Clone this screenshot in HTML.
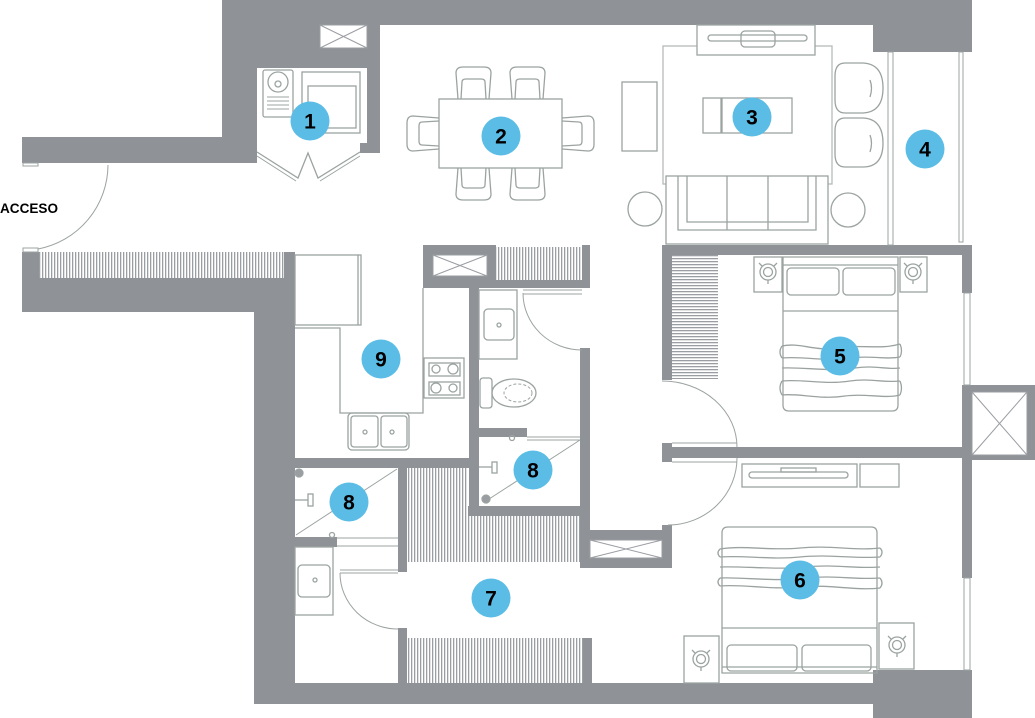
<!DOCTYPE html>
<html><head><meta charset="utf-8"><style>
html,body{margin:0;padding:0;background:#fff;}
svg{display:block;}
.n{font-family:"Liberation Sans",sans-serif;font-weight:bold;font-size:21px;fill:#000;text-anchor:middle;}
.ac{font-family:"Liberation Sans",sans-serif;font-weight:bold;font-size:14px;fill:#000;}
</style></head><body>
<svg width="1035" height="718" viewBox="0 0 1035 718" xmlns="http://www.w3.org/2000/svg">
<defs>
<pattern id="vh" width="3" height="10" patternUnits="userSpaceOnUse"><rect width="3" height="10" fill="#fff"/><rect x="0" width="1.3" height="10" fill="#9a9da2"/></pattern>
<pattern id="hh" width="10" height="3" patternUnits="userSpaceOnUse"><rect width="10" height="3" fill="#fff"/><rect y="0" width="10" height="1.3" fill="#9a9da2"/></pattern>
<g id="chair">
<path d="M3,32 L1,6 Q1,0 8,0 L29,0 Q36,0 36,6 L34,32"/>
<path d="M6,32 L7,15 Q7,12 11,12 L26,12 Q30,12 30,15 L31,32"/>
</g>
<g id="lamp">
<circle cx="0" cy="0" r="8"/>
<circle cx="0" cy="0" r="4.5"/>
<path d="M-6,-6 L-9,-9 M6,-6 L9,-9 M0,8 L0,12"/>
</g>
</defs>

<!-- hatched closets -->
<rect x="39" y="252" width="245" height="26" fill="url(#vh)"/>
<rect x="496" y="247" width="86" height="33" fill="url(#vh)"/>
<rect x="407" y="468" width="61" height="48" fill="url(#vh)"/>
<rect x="407" y="516" width="173" height="46" fill="url(#vh)"/>
<rect x="407" y="638" width="176" height="45" fill="url(#vh)"/>
<rect x="672" y="255" width="46" height="124" fill="url(#hh)"/>

<!-- walls -->
<g fill="#8f9297">
<rect x="222" y="0" width="651" height="25"/>
<rect x="222" y="0" width="35" height="163"/>
<rect x="222" y="0" width="158" height="68"/>
<rect x="367" y="68" width="13" height="85"/>
<rect x="360" y="143" width="7" height="10"/>
<rect x="22" y="137" width="235" height="26"/>
<rect x="873" y="0" width="99" height="52"/>
<rect x="662" y="245" width="310" height="10"/>
<rect x="662" y="245" width="10" height="135"/>
<rect x="962" y="245" width="10" height="48"/>
<rect x="962" y="385" width="73" height="75"/>
<rect x="962" y="460" width="10" height="118"/>
<rect x="662" y="447" width="300" height="11"/>
<rect x="662" y="443" width="10" height="19"/>
<rect x="873" y="670" width="99" height="48"/>
<rect x="254" y="683" width="619" height="21"/>
<rect x="254" y="278" width="41" height="426"/>
<rect x="22" y="278" width="273" height="34"/>
<rect x="22" y="252" width="17" height="26"/>
<rect x="284" y="252" width="11" height="26"/>
<rect x="423" y="245" width="73" height="43"/>
<rect x="496" y="280" width="94" height="8"/>
<rect x="582" y="245" width="8" height="43"/>
<rect x="469" y="288" width="10" height="228"/>
<rect x="580" y="348" width="10" height="220"/>
<rect x="479" y="428" width="48" height="9"/>
<rect x="295" y="458" width="184" height="10"/>
<rect x="468" y="506" width="122" height="10"/>
<rect x="580" y="530" width="92" height="38"/>
<rect x="662" y="525" width="10" height="43"/>
<rect x="295" y="537" width="42" height="10"/>
<rect x="398" y="468" width="9" height="104"/>
<rect x="398" y="628" width="9" height="55"/>
<rect x="583" y="638" width="9" height="45"/>
</g>

<!-- shafts -->
<g fill="#fff" stroke="#9a9da2" stroke-width="1">
<rect x="320" y="25" width="47" height="23"/><path d="M320,25 L367,48 M367,25 L320,48"/>
<rect x="433" y="255" width="54" height="21"/><path d="M433,255 L487,276 M487,255 L433,276"/>
<rect x="972" y="392" width="55" height="63"/><path d="M972,392 L1027,455 M1027,392 L972,455"/>
<rect x="590" y="540" width="72" height="18"/><path d="M590,540 L662,558 M662,540 L590,558"/>
</g>

<!-- furniture / thin lines -->
<g fill="none" stroke="#9ba3a0" stroke-width="1.3">
<!-- entry door -->
<path d="M108,165 A86,86 0 0 1 38,249" stroke-width="1"/>
<rect x="23" y="163" width="15" height="3" stroke-width="1"/>
<rect x="23" y="248" width="15" height="4" stroke-width="1"/>
<!-- closet 1 -->
<rect x="263" y="70" width="30" height="47" rx="2"/>
<circle cx="278" cy="82" r="10"/>
<circle cx="278" cy="84" r="3"/>
<path d="M267,97 H289 M267,101 H289 M267,105 H289 M267,109 H289" stroke-width="1"/>
<rect x="302" y="72" width="58" height="61"/>
<rect x="308" y="86" width="48" height="42"/>
<path d="M257,152 L298,178 L308,153 L318,178 L360,152" />
<path d="M257,156 L296,181 M320,181 L360,156" stroke-width="1"/>
<!-- dining -->
<rect x="439" y="99" width="123" height="69"/>
<use href="#chair" transform="translate(455,67)"/>
<use href="#chair" transform="translate(509,67)"/>
<use href="#chair" transform="translate(455,200) scale(1,-1)"/>
<use href="#chair" transform="translate(509,200) scale(1,-1)"/>
<use href="#chair" transform="translate(407,152) rotate(-90)"/>
<use href="#chair" transform="translate(594,115) rotate(90)"/>
<!-- living -->
<rect x="622" y="82" width="35" height="69"/>
<rect x="663" y="46" width="169" height="138" stroke="#b5bbb8"/>
<rect x="697" y="25" width="118" height="30" fill="#fff"/>
<rect x="708" y="35" width="99" height="6" rx="3"/>
<rect x="741" y="31" width="34" height="16" rx="4"/>
<rect x="703" y="98" width="18" height="35"/>
<rect x="722" y="98" width="70" height="35"/>
<rect x="666" y="176" width="162" height="68" fill="#fff"/>
<path d="M678,176 V230 H816 V176 M687,176 V222 H808 V176 M727,176 V230 M768,176 V230"/>
<circle cx="645" cy="209" r="17"/>
<circle cx="848" cy="210" r="17"/>
<path d="M845,63 L863,63 Q883,64 883,88 Q883,112 863,113 L845,113 Q835,113 835,100 L835,76 Q835,63 845,63 Z"/>
<path d="M870,80 Q873,88 870,97"/>
<path d="M845,118 L863,118 Q883,119 883,143 Q883,167 863,167 L845,167 Q835,167 835,154 L835,131 Q835,118 845,118 Z"/>
<path d="M870,135 Q873,143 870,152"/>
<rect x="888" y="52" width="5" height="193" stroke-width="1"/>
<rect x="959" y="52" width="4" height="190" stroke-width="1"/>
<!-- kitchen -->
<rect x="295" y="255" width="66" height="70"/>
<path d="M358,255 V325"/>
<path d="M295,328 H340 V413 H423 V288"/>
<rect x="424" y="358" width="40" height="40"/>
<rect x="429" y="363" width="31" height="13"/>
<rect x="429" y="382" width="31" height="13"/>
<circle cx="436" cy="369" r="4"/><circle cx="453" cy="369" r="5"/>
<circle cx="436" cy="388" r="5"/><circle cx="453" cy="388" r="4"/>
<rect x="348" y="413" width="61" height="37" rx="4"/>
<rect x="351" y="416" width="27" height="31" rx="3"/>
<rect x="381" y="416" width="26" height="31" rx="3"/>
<circle cx="365" cy="432" r="2"/><circle cx="392" cy="432" r="2"/>
<!-- toilet bath -->
<rect x="479" y="290" width="38" height="69"/>
<rect x="484" y="309" width="30" height="31" rx="4"/>
<circle cx="499" cy="325" r="2"/>
<path d="M523,290 H582 M523,294 H582" stroke-width="1"/>
<path d="M523,293 A59,57 0 0 0 582,350" stroke-width="1"/>
<rect x="480" y="378" width="12" height="30" rx="3"/>
<ellipse cx="514" cy="393" rx="22" ry="14"/>
<ellipse cx="518" cy="393" rx="14" ry="9" stroke-dasharray="3,2" stroke-width="1"/>
<!-- shower 8 upper -->
<path d="M527,437 H580 M527,440 H580" stroke-width="1"/>
<path d="M580,440 L486,501" stroke-width="1"/>
<path d="M479,467 H492" />
<rect x="492" y="462" width="5" height="11"/>
<circle cx="486" cy="499" r="4" fill="#9a9da2"/>
<circle cx="512" cy="438" r="2.5"/>
<!-- shower 8 lower -->
<path d="M397,469 L296,535" stroke-width="1"/>
<circle cx="299" cy="473" r="4" fill="#9a9da2"/>
<path d="M295,500 H308"/>
<rect x="308" y="494" width="5" height="12"/>
<path d="M337,538 H398 M337,546 H398" stroke-width="1"/>
<circle cx="332" cy="535" r="2.5"/>
<!-- lower bath -->
<rect x="295" y="547" width="38" height="68"/>
<rect x="298" y="565" width="32" height="32" rx="4"/>
<circle cx="315" cy="580" r="2"/>
<path d="M340,570 H398 M340,573 H398" stroke-width="1"/>
<path d="M340,573 A58,56 0 0 0 398,629" stroke-width="1"/>
<!-- bedroom 5 -->
<path d="M662,381 A75,66 0 0 1 737,447" stroke-width="1"/>
<path d="M672,443 H737 M672,462 H737" stroke-width="1"/>
<rect x="754" y="257" width="28" height="35"/>
<use href="#lamp" transform="translate(768,272)"/>
<rect x="900" y="257" width="27" height="35"/>
<use href="#lamp" transform="translate(913,272)"/>
<path d="M783,257 H898 V405 Q898,411 892,411 H789 Q783,411 783,405 Z"/>
<path d="M783,265 H898 M783,311 H898"/>
<rect x="787" y="268" width="52" height="27" rx="4"/>
<rect x="843" y="268" width="52" height="27" rx="4"/>
<path d="M782,346 C800,342 815,352 840,348 C860,344 880,350 900,344" fill="#fff"/>
<path d="M782,358 C805,356 825,362 850,358 C870,355 885,360 900,357"/>
<path d="M782,368 C805,367 830,372 855,368 C875,365 888,370 900,368"/>
<path d="M782,381 C805,379 825,385 850,381 C870,378 885,383 900,381"/>
<path d="M782,395 C800,393 820,400 845,396 C865,393 885,399 900,395"/>
<path d="M782,346 Q778,352 782,358 M900,344 Q903,351 900,357 M782,381 Q778,388 782,395 M900,381 Q903,388 900,395"/>
<rect x="964" y="293" width="6" height="92" stroke-width="1"/>
<!-- bedroom 6 -->
<path d="M737,458 A69,67 0 0 1 668,525" stroke-width="1"/>
<rect x="742" y="464" width="115" height="23"/>
<rect x="749" y="472" width="99" height="6" rx="3"/>
<rect x="781" y="468" width="35" height="4"/>
<rect x="860" y="464" width="39" height="23"/>
<path d="M728,527 H871 Q877,527 877,533 V673 H722 V533 Q722,527 728,527 Z"/>
<path d="M722,628 H877 M722,667 H877"/>
<rect x="727" y="645" width="70" height="26" rx="4"/>
<rect x="802" y="645" width="69" height="26" rx="4"/>
<path d="M720,549 C745,545 770,551 800,548 C830,545 855,551 880,548" fill="#fff"/>
<path d="M720,557 C745,555 770,560 800,557 C830,554 855,559 880,557"/>
<path d="M720,567 C745,566 775,570 805,567 C835,564 858,569 880,567"/>
<path d="M720,578 C745,577 775,582 805,578 C835,575 858,580 880,578"/>
<path d="M720,586 C745,584 770,590 800,587 C830,584 855,591 880,588"/>
<path d="M720,549 Q716,553 720,557 M880,548 Q884,552 880,557 M720,578 Q716,582 720,586 M880,578 Q884,583 880,588"/>
<rect x="684" y="636" width="35" height="47"/>
<use href="#lamp" transform="translate(701,659)"/>
<rect x="879" y="623" width="35" height="46"/>
<use href="#lamp" transform="translate(897,645)"/>
<rect x="964" y="578" width="6" height="92" stroke-width="1"/>
</g>

<!-- labels -->
<text class="ac" x="0" y="213" textLength="58" lengthAdjust="spacingAndGlyphs">ACCESO</text>
<g fill="#5bbde6">
<circle cx="310" cy="121" r="19.5"/>
<circle cx="501" cy="136" r="19.5"/>
<circle cx="752" cy="117" r="19.5"/>
<circle cx="925" cy="149" r="19.5"/>
<circle cx="840" cy="356" r="19.5"/>
<circle cx="800" cy="580" r="19.5"/>
<circle cx="491" cy="598" r="19.5"/>
<circle cx="533" cy="470" r="19.5"/>
<circle cx="349" cy="502" r="19.5"/>
<circle cx="381" cy="359" r="19.5"/>
</g>
<text class="n" x="310" y="128.5">1</text>
<text class="n" x="501" y="143.5">2</text>
<text class="n" x="752" y="124.5">3</text>
<text class="n" x="925" y="156.5">4</text>
<text class="n" x="840" y="363.5">5</text>
<text class="n" x="800" y="587.5">6</text>
<text class="n" x="491" y="605.5">7</text>
<text class="n" x="533" y="477.5">8</text>
<text class="n" x="349" y="509.5">8</text>
<text class="n" x="381" y="366.5">9</text>
</svg>
</body></html>
